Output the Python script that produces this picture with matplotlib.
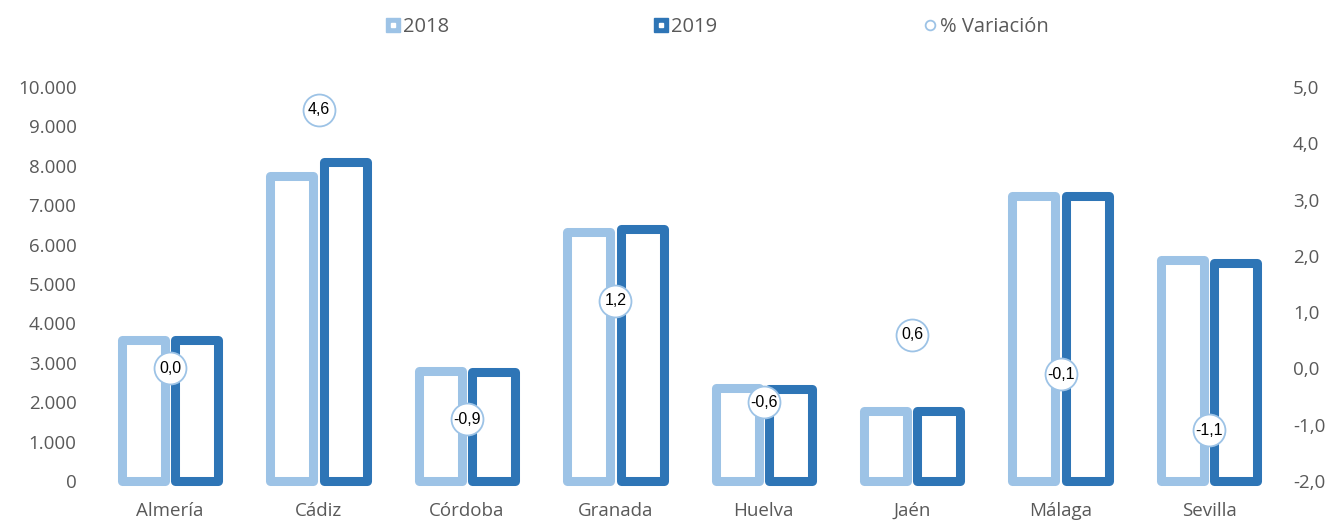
import matplotlib
matplotlib.use('Agg')
from matplotlib import pyplot as plt
from matplotlib.lines import Line2D
from matplotlib.ticker import FuncFormatter
import numpy as np

plt.rcParams['font.family'] = ['Open Sans', 'DejaVu Sans']

# data
provinces = ['Almería', 'Cádiz', 'Córdoba', 'Granada', 'Huelva', 'Jaén', 'Málaga', 'Sevilla']
values_2018 = [3570, 7750, 2790, 6320, 2360, 1775, 7240, 5600]
values_2019 = [3570, 8105, 2765, 6395, 2346, 1786, 7233, 5540]
variation = [0.0, 4.6, -0.9, 1.2, -0.6, 0.6, -0.1, -1.1]

c2018 = '#9DC3E6'
c2019 = '#2E75B6'
grey = '#595959'

fig = plt.figure(figsize=(13.38, 5.21), dpi=100)
ax = fig.add_axes([0.0717, 0.0768, 0.8873, 0.7562])
x = np.arange(len(provinces))
w = 0.29
off = 0.18

# hollow bars with thick rounded outlines
for xs, vals, col in [(x - off, values_2018, c2018), (x + off, values_2019, c2019)]:
    bars = ax.bar(xs, vals, width=w, facecolor='white', edgecolor=col,
                  linewidth=6.5, clip_on=False)
    for b in bars:
        b.set_joinstyle('round')

ax.set_xlim(-0.5, len(provinces) - 0.5)
ax.set_ylim(0, 10000)
ax.set_yticks(np.arange(0, 10001, 1000))
ax.yaxis.set_major_formatter(FuncFormatter(lambda v, p: f'{int(v):,}'.replace(',', '.')))
ax.set_xticks(x)
ax.set_xticklabels(provinces)
ax.tick_params(axis='y', length=0, pad=14, labelsize=13.5, labelcolor=grey)
ax.tick_params(axis='x', length=0, pad=15, labelsize=13.5, labelcolor=grey)
for s in ax.spines.values():
    s.set_visible(False)

# variation markers on the secondary axis
ax2 = ax.twinx()
ax2.set_ylim(-2, 5)
ax2.set_yticks(np.arange(-2, 5.01, 1))
ax2.yaxis.set_major_formatter(FuncFormatter(lambda v, p: f'{v:.1f}'.replace('.', ',')))
ax2.tick_params(axis='y', length=0, pad=7, labelsize=13.5, labelcolor=grey)
for s in ax2.spines.values():
    s.set_visible(False)
ax2.plot(x, variation, linestyle='none', marker='o', markersize=23,
         markerfacecolor='white', markeredgecolor=c2018, markeredgewidth=1.3)
for xi, v in zip(x, variation):
    ax2.text(xi, v, f'{v:.1f}'.replace('.', ','), ha='center', va='center',
             fontsize=11.5, color='black', family=['Liberation Sans Narrow', 'Liberation Sans', 'DejaVu Sans'])

# legend
h1 = (Line2D([], [], linestyle='none', marker='s', markersize=10, color=c2018),
      Line2D([], [], linestyle='none', marker='s', markersize=3.5, color='white'))
h2 = (Line2D([], [], linestyle='none', marker='s', markersize=10, color=c2019),
      Line2D([], [], linestyle='none', marker='s', markersize=3.5, color='white'))
h3 = Line2D([], [], linestyle='none', marker='o', markersize=7,
            markerfacecolor='white', markeredgecolor=c2018, markeredgewidth=1.3)
leg = fig.legend([h1, h2, h3], ['2018', '2019', '% Variación'], loc='center',
                 bbox_to_anchor=(0.536, 0.948), ncol=3, frameon=False,
                 fontsize=14.5, handlelength=0.7, handletextpad=0.15,
                 columnspacing=10.2)
for t in leg.get_texts():
    t.set_color(grey)

fig.savefig('out.png', dpi=100)
